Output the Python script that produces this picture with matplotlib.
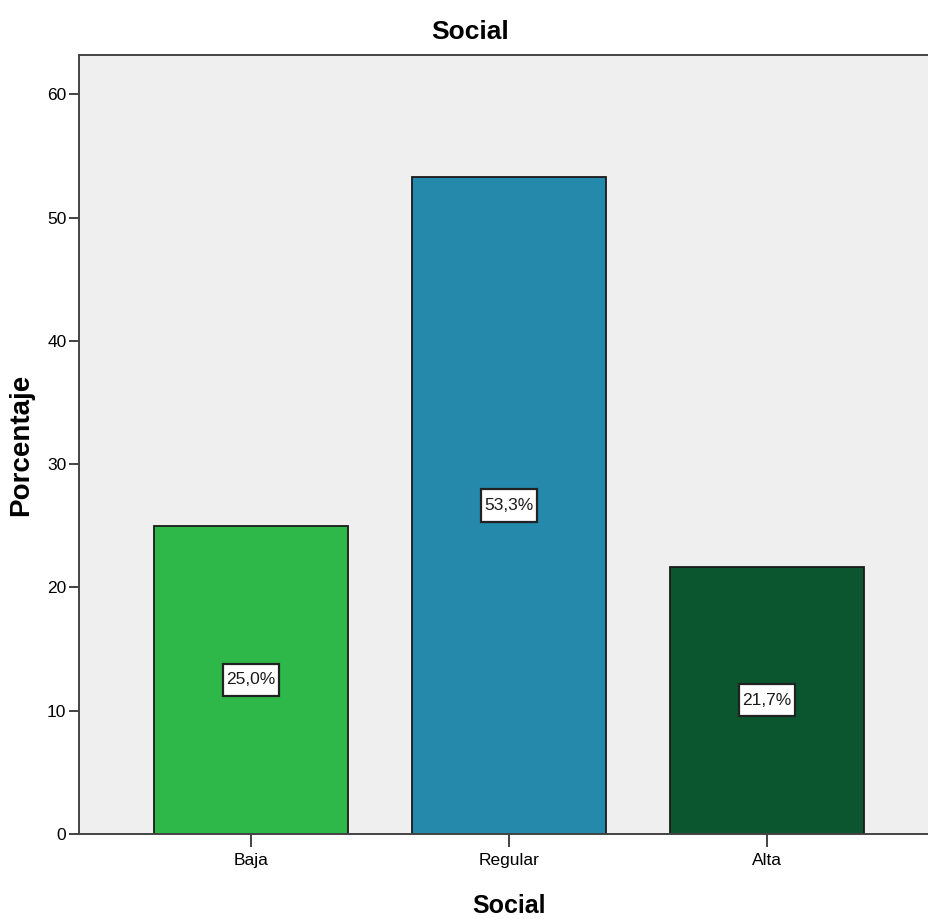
import matplotlib
matplotlib.use("Agg")
import matplotlib.pyplot as plt
from matplotlib import font_manager
from matplotlib.path import Path

categories = ["Baja", "Regular", "Alta"]
percent = [25.0, 53.3, 21.7]
bar_labels = ["25,0%", "53,3%", "21,7%"]
yticks = [0, 10, 20, 30, 40, 50, 60]

COLORS = ["#2fb84a", "#2489ab", "#0b562e"]
BG = "#efefef"

installed = {f.name for f in font_manager.fontManager.ttflist}
NARROW = "Liberation Sans Narrow" if "Liberation Sans Narrow" in installed else "Liberation Sans"
plt.rcParams["font.family"] = [NARROW, "DejaVu Sans"]


def label_box(x0, y0, width, height, mutation_size):
    # wider vertical than horizontal padding, like the SPSS labels
    px, py = 0.18 * mutation_size, 0.5 * mutation_size
    return Path([(x0 - px, y0 - py), (x0 + width + px, y0 - py),
                 (x0 + width + px, y0 + height + py), (x0 - px, y0 + height + py),
                 (x0 - px, y0 - py)], closed=True)


fig = plt.figure(figsize=(9.29, 9.19), dpi=100)
ax = fig.add_axes([0.085, 0.0925, 0.9257, 0.8477])
ax.set_facecolor(BG)

xs = list(range(1, len(categories) + 1))
ax.bar(xs, percent, width=0.75, color=COLORS, edgecolor="#1a1a1a", linewidth=1.3, zorder=2)

for x, v, lab in zip(xs, percent, bar_labels):
    ax.text(x, v / 2, lab, ha="center", va="center", fontsize=12.5, color="#1a1a1a",
            zorder=3,
            bbox=dict(boxstyle=label_box, fc="white", ec="#222222", lw=1.6))

ax.set_xlim(0.333, 3.667)
ax.set_ylim(0, 63.2)
ax.set_xticks(xs)
ax.set_xticklabels(categories)
ax.set_yticks(yticks)
ax.tick_params(axis="y", length=7.5, width=1.2, pad=1.5, labelsize=12.5, color="#222222")
ax.tick_params(axis="x", length=9.5, width=1.2, pad=4, labelsize=12.5, color="#222222")

for s in ax.spines.values():
    s.set_color("#444444")
    s.set_linewidth(1.4)

ax.set_xlabel("Social", fontsize=18, fontweight="bold", labelpad=19)
ax.set_ylabel("Porcentaje", fontsize=20, fontweight="bold", labelpad=9,
              family=["Liberation Sans", "DejaVu Sans"])
fig.text(0.506, 0.965, "Social", ha="center", va="center", fontsize=19, fontweight="bold")

fig.savefig("out.png", dpi=100)
